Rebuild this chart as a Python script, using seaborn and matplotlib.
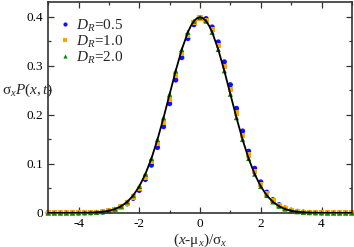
import matplotlib
matplotlib.use("Agg")
import matplotlib.pyplot as plt
import numpy as np
import pandas as pd
import seaborn as sns
from matplotlib.ticker import MultipleLocator

# x grid of the measured points (x-mu)/sigma
x_grid = [-5.0, -4.8, -4.6, -4.4, -4.2, -4.0, -3.8, -3.6, -3.4, -3.2, -3.0,
          -2.8, -2.6, -2.4, -2.2, -2.0, -1.8, -1.6, -1.4, -1.2, -1.0,
          -0.8, -0.6, -0.4, -0.2, 0.0, 0.2, 0.4, 0.6, 0.8, 1.0,
          1.2, 1.4, 1.6, 1.8, 2.0, 2.2, 2.4, 2.6, 2.8, 3.0,
          3.2, 3.4, 3.6, 3.8, 4.0, 4.2, 4.4, 4.6, 4.8, 5.0]

p_d05 = [0, 0, 0, 0, 0, 0.0001, 0.0002, 0.0004, 0.0009, 0.0018, 0.0035,
         0.0063, 0.0110, 0.0184, 0.0297, 0.0459, 0.0681, 0.0973, 0.1334, 0.1758, 0.2227,
         0.2709, 0.3166, 0.3555, 0.3836, 0.3977, 0.3961, 0.3790, 0.3485, 0.3079, 0.2613,
         0.2131, 0.1669, 0.1257, 0.0909, 0.0632, 0.0422, 0.0270, 0.0167, 0.0099, 0.0056,
         0.0031, 0.0016, 0.0008, 0.0004, 0.0002, 0, 0, 0, 0, 0]

p_d10 = [0, 0, 0, 0, 0, 0.0001, 0.0002, 0.0005, 0.0010, 0.0021, 0.0039,
         0.0071, 0.0122, 0.0203, 0.0325, 0.0498, 0.0734, 0.1040, 0.1415, 0.1849, 0.2323,
         0.2803, 0.3251, 0.3621, 0.3876, 0.3975, 0.3930, 0.3739, 0.3410, 0.2989, 0.2516,
         0.2036, 0.1582, 0.1182, 0.0848, 0.0584, 0.0387, 0.0246, 0.0151, 0.0089, 0.0050,
         0.0027, 0.0014, 0.0007, 0.0003, 0.0001, 0, 0, 0, 0, 0]

p_d20 = [0, 0, 0, 0, 0, 0.0001, 0.0003, 0.0006, 0.0012, 0.0024, 0.0044,
         0.0079, 0.0136, 0.0224, 0.0355, 0.0540, 0.0790, 0.1109, 0.1497, 0.1942, 0.2420,
         0.2897, 0.3332, 0.3683, 0.3910, 0.3985, 0.3910, 0.3683, 0.3332, 0.2897, 0.2420,
         0.1942, 0.1497, 0.1109, 0.0790, 0.0540, 0.0355, 0.0224, 0.0136, 0.0079, 0.0044,
         0.0024, 0.0012, 0.0006, 0.0003, 0.0001, 0, 0, 0, 0, 0]

# gaussian reference curve
x_line = [-5.0, -4.5, -4.0, -3.6, -3.2, -3.0, -2.8, -2.6, -2.4, -2.2, -2.0,
          -1.8, -1.6, -1.4, -1.2, -1.0, -0.8, -0.6, -0.4, -0.3, -0.2, -0.1, 0.0,
          0.1, 0.2, 0.3, 0.4, 0.6, 0.8, 1.0, 1.2, 1.4, 1.6, 1.8, 2.0,
          2.2, 2.4, 2.6, 2.8, 3.0, 3.2, 3.6, 4.0, 4.5, 5.0]
p_line = [0.0000, 0.0000, 0.0001, 0.0006, 0.0024, 0.0044, 0.0079, 0.0136, 0.0224, 0.0355, 0.0540,
          0.0790, 0.1109, 0.1497, 0.1942, 0.2420, 0.2897, 0.3332, 0.3683, 0.3814, 0.3910, 0.3970, 0.3989,
          0.3970, 0.3910, 0.3814, 0.3683, 0.3332, 0.2897, 0.2420, 0.1942, 0.1497, 0.1109, 0.0790, 0.0540,
          0.0355, 0.0224, 0.0136, 0.0079, 0.0044, 0.0024, 0.0006, 0.0001, 0.0000, 0.0000]

labels = ["$D_R$=0.5", "$D_R$=1.0", "$D_R$=2.0"]
colors = ["#1010ff", "#ffa500", "#008a00"]
markers = ["o", "s", "^"]

df = pd.DataFrame({
    "x": x_grid * 3,
    "p": p_d05 + p_d10 + p_d20,
    "series": [labels[0]] * len(x_grid) + [labels[1]] * len(x_grid) + [labels[2]] * len(x_grid),
})

sns.set_style("ticks")
plt.rcParams["font.family"] = ["Liberation Serif", "DejaVu Serif"]
plt.rcParams["mathtext.fontset"] = "custom"
plt.rcParams["mathtext.rm"] = "Liberation Serif"
plt.rcParams["mathtext.it"] = "Liberation Serif:italic"
plt.rcParams["axes.unicode_minus"] = False

fig = plt.figure(figsize=(3.54, 2.47), dpi=100)
ax = fig.add_axes([0.136, 0.138, 0.858, 0.854])

sns.scatterplot(data=df, x="x", y="p", hue="series", style="series",
                palette=colors, markers=markers, s=14, linewidth=0,
                ax=ax, zorder=2, clip_on=False)
ax.plot(x_line, p_line, color="black", linewidth=1.3, zorder=3)

ax.set_xlim(-5, 5)
ax.set_ylim(0, 0.43)
ax.xaxis.set_major_locator(MultipleLocator(2))
ax.xaxis.set_minor_locator(MultipleLocator(1))
ax.yaxis.set_major_locator(MultipleLocator(0.1))
ax.yaxis.set_minor_locator(MultipleLocator(0.05))
ax.yaxis.set_major_formatter(plt.FuncFormatter(lambda v, _: "0" if abs(v) < 1e-9 else f"{v:.1f}"))
ax.tick_params(which="both", direction="in", top=True, right=True, labelsize=9.5, colors="#333333",
               labelcolor="black")
ax.tick_params(which="major", length=4, width=0.9)
ax.tick_params(which="minor", length=2.5, width=0.9)
for sp in ax.spines.values():
    sp.set_linewidth(1.2)
    sp.set_color("#333333")

ax.set_xlabel("($x$-μ$_x$)/σ$_x$", fontsize=11, labelpad=1)
ax.set_ylabel("σ$_x$$P(x,t)$", fontsize=11, rotation=0, ha="left", va="center")
ax.yaxis.set_label_coords(-0.152, 0.58)

leg = ax.legend(loc="upper left", bbox_to_anchor=(0.0, 0.97), frameon=False, fontsize=11,
                handletextpad=0.25, handlelength=1.0, borderaxespad=0.2,
                labelspacing=0.0, markerscale=0.8)

fig.savefig("out.png", dpi=100)
